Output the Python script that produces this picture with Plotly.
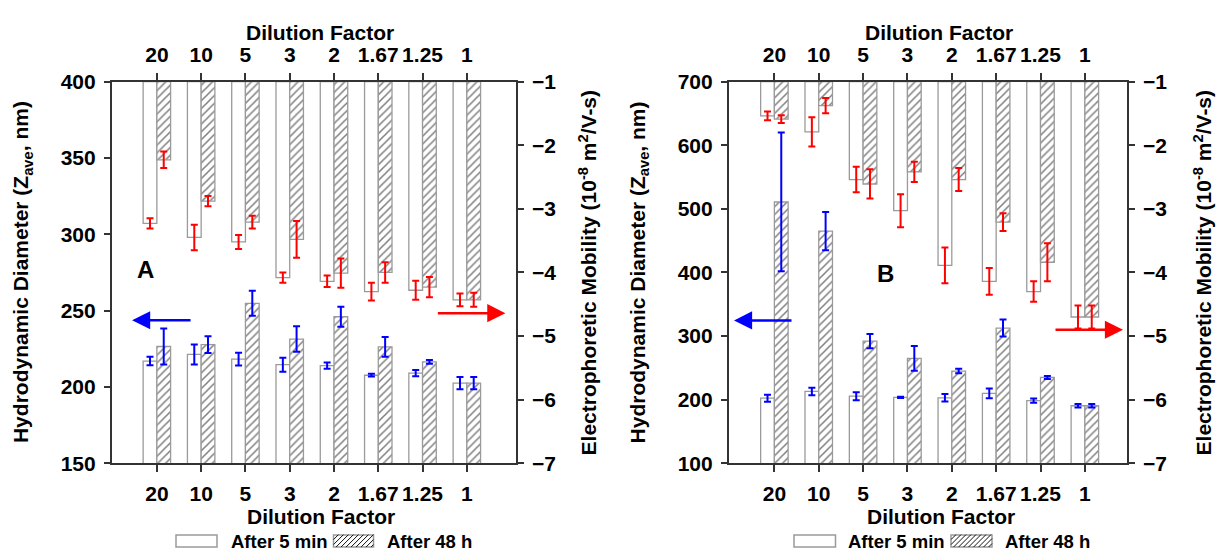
import plotly.graph_objects as go

# ---------------- data ----------------
cats = ["20", "10", "5", "3", "2", "1.67", "1.25", "1"]

# Panel A
A_d5 = [217, 221.3, 218.2, 214.6, 214, 207.7, 209.1, 202.6]
A_d5_err = [2.8, 6.6, 4.2, 4.6, 2.1, 0.9, 2.1, 4.0]
A_d48 = [226.5, 227.8, 254.8, 231.4, 246, 226.3, 216.5, 202.6]
A_d48_err = [11.8, 5.5, 8.2, 8.3, 6.5, 6.5, 1.2, 4.0]
A_m5 = [-3.23, -3.45, -3.52, -4.08, -4.14, -4.30, -4.28, -4.43]
A_m5_err = [0.08, 0.20, 0.11, 0.08, 0.09, 0.14, 0.15, 0.10]
A_m48 = [-2.23, -2.88, -3.21, -3.48, -4.01, -4.00, -4.23, -4.43]
A_m48_err = [0.13, 0.08, 0.10, 0.29, 0.23, 0.16, 0.16, 0.11]

# Panel B
B_d5 = [202.5, 213, 205.5, 203.6, 203, 210, 198.6, 190.5]
B_d5_err = [5.5, 6, 6.3, 1, 5.8, 7.8, 3.3, 2.8]
B_d48 = [510.7, 465, 292, 265, 245, 312.6, 235, 190.5]
B_d48_err = [109, 30, 11.3, 19.6, 3.5, 13.3, 2.3, 2.8]
B_m5 = [-1.54, -1.79, -2.54, -3.03, -3.89, -4.14, -4.30, -4.70]
B_m5_err = [0.07, 0.23, 0.20, 0.26, 0.28, 0.21, 0.16, 0.18]
B_m48 = [-1.59, -1.38, -2.61, -2.42, -2.54, -3.21, -3.84, -4.70]
B_m48_err = [0.06, 0.12, 0.23, 0.16, 0.18, 0.14, 0.30, 0.18]

MOB_TOP = -1  # right axis top, mobility bars hang from here

# ---------------- style ----------------
W, H = 1217, 560
FONT = "Liberation Sans, Arial, sans-serif"
AX = "#333333"
OUT = "#9a9a9a"
RED = "#ff0000"
BLUE = "#0000ff"
BW = 0.31
idx = list(range(len(cats)))

def fx(px):
    return px / W

def fy(py):
    return 1 - py / H

fig = go.Figure()

def add_panel(xa, ya, ya2, xtop, d5, d5e, d48, d48e, m5, m5e, m48, m48e):
    white = dict(color="white", line=dict(color=OUT, width=1.3))
    hatch = dict(color="white", line=dict(color=OUT, width=1.3),
                 pattern=dict(shape="/", size=5.5, solidity=0.28,
                              fgcolor="#000000", bgcolor="white"))
    # diameter bars (left axis)
    fig.add_trace(go.Bar(x=idx, y=d5, offset=-BW, width=BW, marker=white,
                         xaxis=xa, yaxis=ya, showlegend=False))
    fig.add_trace(go.Bar(x=idx, y=d48, offset=0, width=BW, marker=hatch,
                         xaxis=xa, yaxis=ya, showlegend=False))
    # mobility bars (right axis), hanging from top
    fig.add_trace(go.Bar(x=idx, y=[v - MOB_TOP for v in m5], base=MOB_TOP,
                         offset=-BW, width=BW, marker=white,
                         xaxis=xa, yaxis=ya2, showlegend=False))
    fig.add_trace(go.Bar(x=idx, y=[v - MOB_TOP for v in m48], base=MOB_TOP,
                         offset=0, width=BW, marker=hatch,
                         xaxis=xa, yaxis=ya2, showlegend=False))
    # error bars
    inv = dict(color="rgba(0,0,0,0)", size=1)
    for vals, errs, shift, yax, col in [
        (d5, d5e, -BW / 2, ya, BLUE), (d48, d48e, BW / 2, ya, BLUE),
        (m5, m5e, -BW / 2, ya2, RED), (m48, m48e, BW / 2, ya2, RED)]:
        fig.add_trace(go.Scatter(
            x=[i + shift for i in idx], y=vals, mode="markers", marker=inv,
            error_y=dict(type="data", array=errs, color=col, thickness=2, width=3.5),
            xaxis=xa, yaxis=yax, showlegend=False, hoverinfo="skip"))
    # invisible trace for top axis
    fig.add_trace(go.Scatter(x=idx, y=d5, mode="markers", marker=inv,
                             xaxis=xtop, yaxis=ya, showlegend=False, hoverinfo="skip"))

add_panel("x", "y", "y2", "x3", A_d5, A_d5_err, A_d48, A_d48_err,
          A_m5, A_m5_err, A_m48, A_m48_err)
add_panel("x2", "y3", "y4", "x4", B_d5, B_d5_err, B_d48, B_d48_err,
          B_m5, B_m5_err, B_m48, B_m48_err)

tickfont = dict(family=FONT, size=21, color="black", weight="bold")
common = dict(showline=True, linecolor=AX, linewidth=1.6, ticks="outside",
              tickcolor=AX, tickwidth=1.6, showgrid=False, zeroline=False,
              tickfont=tickfont, fixedrange=True)

ydom = [fy(470.7), fy(72.5)]
xdomA = [fx(111.7), fx(516)]
xdomB = [fx(728.7), fx(1127)]
rngA = [-1.02, 8.11]
rngB = [-1.03, 7.95]

fig.update_layout(
    width=W, height=H, margin=dict(l=0, r=0, t=0, b=0),
    paper_bgcolor="white", plot_bgcolor="white",
    barmode="overlay", showlegend=False,
    font=dict(family=FONT, color="black"),
    xaxis=dict(domain=xdomA, range=rngA, anchor="y", tickvals=idx, ticktext=cats,
               ticklen=7, ticklabelstandoff=4, **common),
    xaxis3=dict(overlaying="x", side="top", anchor="y", range=rngA, tickvals=idx,
                ticktext=cats, ticklen=7, ticklabelstandoff=2, **common),
    yaxis=dict(domain=ydom, range=[150, 400], anchor="x", tickvals=[150, 200, 250, 300, 350, 400],
               ticklen=6, ticklabelstandoff=4, **common),
    yaxis2=dict(overlaying="y", side="right", anchor="x", range=[-7, -1],
                tickvals=[-7, -6, -5, -4, -3, -2, -1], ticklen=6, ticklabelstandoff=4, **common),
    xaxis2=dict(domain=xdomB, range=rngB, anchor="y3", tickvals=idx, ticktext=cats,
                ticklen=7, ticklabelstandoff=4, **common),
    xaxis4=dict(overlaying="x2", side="top", anchor="y3", range=rngB, tickvals=idx,
                ticktext=cats, ticklen=7, ticklabelstandoff=2, **common),
    yaxis3=dict(domain=ydom, range=[100, 700], anchor="x2",
                tickvals=[100, 200, 300, 400, 500, 600, 700], ticklen=6, ticklabelstandoff=4, **common),
    yaxis4=dict(overlaying="y3", side="right", anchor="x2", range=[-7, -1],
                tickvals=[-7, -6, -5, -4, -3, -2, -1], ticklen=6, ticklabelstandoff=4, **common),
)

tfont = dict(family=FONT, size=21, color="black", weight="bold")
ann = []
# axis titles
for xc, yc, txt, ang in [
    (22.6, 271.6, "Hydrodynamic Diameter (Z<sub>ave</sub>, nm)", -90),
    (588, 271.6, "Electrophoretic Mobility (10<sup>-8</sup> m<sup>2</sup>/V-s)", -90),
    (639, 271.6, "Hydrodynamic Diameter (Z<sub>ave</sub>, nm)", -90),
    (1203, 271.6, "Electrophoretic Mobility (10<sup>-8</sup> m<sup>2</sup>/V-s)", -90),
    (320, 21, "Dilution Factor", 0), (321, 526.5, "Dilution Factor", 0),
    (939, 21, "Dilution Factor", 0), (941, 526.5, "Dilution Factor", 0)]:
    ann.append(dict(x=fx(xc), y=fy(yc), xref="paper", yref="paper", text=txt,
                    textangle=ang, showarrow=False, font=tfont,
                    xanchor="center", yanchor="middle"))
# panel letters
ann.append(dict(x=-0.25, y=277, xref="x", yref="y", text="A", showarrow=False,
                font=dict(family=FONT, size=24, color="black", weight="bold")))
ann.append(dict(x=2.51, y=398, xref="x2", yref="y3", text="B", showarrow=False,
                font=dict(family=FONT, size=24, color="black", weight="bold")))
# axis pointer arrows
arrow = dict(text="", showarrow=True, arrowhead=2, arrowsize=1.45, arrowwidth=2.5, ay=0, ayref="pixel")
ann.append(dict(x=-0.56, y=243.7, xref="x", yref="y", ax=60, arrowcolor=BLUE, **arrow))
ann.append(dict(x=7.87, y=-4.64, xref="x", yref="y2", ax=-69, arrowcolor=RED, **arrow))
ann.append(dict(x=-0.91, y=324.6, xref="x2", yref="y3", ax=59, arrowcolor=BLUE, **arrow))
ann.append(dict(x=7.86, y=-4.90, xref="x2", yref="y4", ax=-69, arrowcolor=RED, **arrow))

# legends (drawn keys + text)
shapes = []
lfont = dict(family=FONT, size=18.5, color="black", weight="bold")
ly0, ly1 = 545.5, 558
for bx0, bx1, tx, label, hatched in [
    (176, 217, 229, "After 5 min", False), (333.5, 373.5, 385, "After 48 h", True),
    (794, 835.5, 846, "After 5 min", False), (951, 992, 1002.5, "After 48 h", True)]:
    shapes.append(dict(type="rect", xref="paper", yref="paper",
                       x0=fx(bx0), x1=fx(bx1), y0=fy(ly1), y1=fy(ly0),
                       line=dict(color=OUT, width=1.5), fillcolor="white"))
    if hatched:
        bw, bh, s = bx1 - bx0, ly1 - ly0, 5
        segs = []
        c = -bh
        while c < bw:
            xa0, xa1 = max(0, c), min(bw, c + bh)
            if xa1 > xa0:
                segs.append(f"M{xa0:.2f},{xa0 - c:.2f}L{xa1:.2f},{xa1 - c:.2f}")
            c += s
        shapes.append(dict(type="path", xref="paper", yref="paper",
                           xsizemode="pixel", ysizemode="pixel",
                           xanchor=fx(bx0), yanchor=fy(ly1), path="".join(segs),
                           line=dict(color="#111111", width=1)))
    ann.append(dict(x=fx(tx), y=fy((ly0 + ly1) / 2), xref="paper", yref="paper",
                    text=label, showarrow=False, font=lfont,
                    xanchor="left", yanchor="middle"))

fig.update_layout(annotations=ann, shapes=shapes)
fig.write_html("out.html")
